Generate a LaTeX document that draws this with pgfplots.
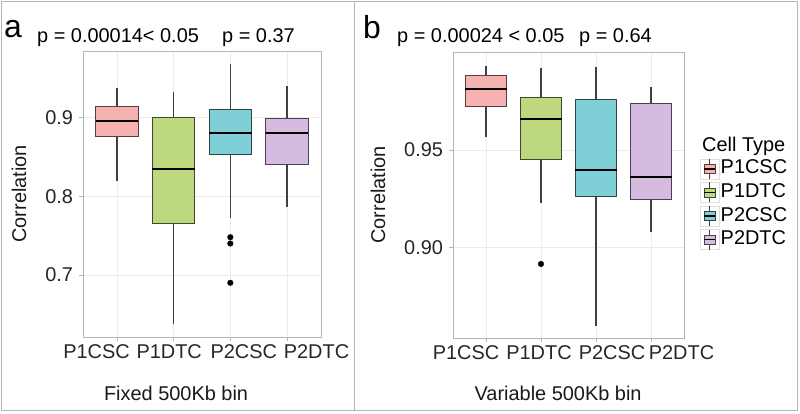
\documentclass[border=0pt]{standalone}
\usepackage{fontspec}
\setmainfont{Liberation Sans}
\usepackage{pgfplots}
\pgfplotsset{compat=1.18}
\usepgfplotslibrary{statistics}
\definecolor{c1}{HTML}{F6B2B0}
\definecolor{c2}{HTML}{BDD87F}
\definecolor{c3}{HTML}{7ECFD6}
\definecolor{c4}{HTML}{D6BBE0}
\definecolor{c1d}{HTML}{5A3C3C}
\definecolor{c2d}{HTML}{3E4A28}
\definecolor{c3d}{HTML}{2A4548}
\definecolor{c4d}{HTML}{4A3E50}
\definecolor{gridc}{HTML}{EBEBEB}
\definecolor{framec}{HTML}{B5B5B5}
\newcommand{\fs}{\fontsize{20}{22}\selectfont}
\pgfplotsset{
  panel/.style={
    anchor=south west, scale only axis,
    xmin=0.4, xmax=4.6,
    xtick={1,2,3,4},
    tick pos=left, tick align=outside, major tick length=4bp,
    tick style={framec, line width=0.8bp},
    grid=major, major grid style={gridc, line width=0.8bp},
    axis line style={framec, line width=0.8bp},
    /pgf/number format/assume math mode=true,
    tick label style={font=\fs, text=black!85},
    yticklabel style={xshift=-2.5bp},
    label style={font=\fs, text=black!90},
    boxplot/draw direction=y,
    boxplot/every median/.style={black, line width=2.2bp},
    boxplot/every whisker/.style={black!75, line width=1.3bp},
    boxplot/every box/.style={line width=0.9bp},
  },
  lgimg/.style 2 args={legend image code/.code={
    \draw[gray!25, line width=0.6bp, fill=white] (-4bp,-10bp) rectangle (15bp,10bp);
    \draw[black!75, line width=1bp] (5.5bp,-10bp) -- (5.5bp,10bp);
    \draw[fill=#1, draw=#2, line width=0.8bp] (0bp,-4.5bp) rectangle (11bp,4.5bp);
    \draw[black, line width=1.6bp] (0bp,0bp) -- (11bp,0bp);
  }},
}
\begin{document}
\begin{tikzpicture}
\useasboundingbox (0bp,0bp) rectangle (800bp,414bp);
\draw[framec, line width=1bp] (1.5bp,3bp) rectangle (797.5bp,412.5bp);
\draw[framec, line width=1bp] (354bp,3bp) -- (354bp,412.5bp);

% Panel a
\begin{axis}[panel, at={(83bp,77bp)}, width=238bp, height=286bp,
  ymin=0.621, ymax=0.985,
  xticklabels={\hspace*{-41bp}P1CSC,\hspace*{-9bp}P1DTC,P2CSC\hspace*{-27bp},P2DTC\hspace*{-59bp}},
  ytick={0.7,0.8,0.9}, yticklabels={0.7,0.8,0.9},
  xlabel={Fixed 500Kb bin}, ylabel={Correlation},
  xlabel style={at={(axis description cs:0.391,-0.196)}, anchor=center},
  ylabel style={at={(axis description cs:-0.269,0.5)}, anchor=center},
]
\addplot[forget plot, fill=c1, draw=c1d, boxplot prepared={lower whisker=0.820, lower quartile=0.876, median=0.896, upper quartile=0.915, upper whisker=0.938, draw position=1, box extend=0.75, whisker extend=0}] coordinates {};
\addplot[forget plot, fill=c2, draw=c2d, boxplot prepared={lower whisker=0.637, lower quartile=0.766, median=0.835, upper quartile=0.901, upper whisker=0.933, draw position=2, box extend=0.75, whisker extend=0}] coordinates {};
\addplot[forget plot, fill=c3, draw=c3d, boxplot prepared={lower whisker=0.773, lower quartile=0.853, median=0.881, upper quartile=0.911, upper whisker=0.969, draw position=3, box extend=0.75, whisker extend=0}] coordinates {};
\addplot[forget plot, fill=c4, draw=c4d, boxplot prepared={lower whisker=0.787, lower quartile=0.841, median=0.881, upper quartile=0.899, upper whisker=0.940, draw position=4, box extend=0.75, whisker extend=0}] coordinates {};
\addplot[forget plot, only marks, mark=*, mark size=2.8bp, black] coordinates {(3,0.748) (3,0.740) (3,0.690)};
\end{axis}

% Panel b
\begin{axis}[panel, at={(453bp,76bp)}, width=231bp, height=286bp,
  ymin=0.854, ymax=1.000,
  xticklabels={\hspace*{-40bp}P1CSC,\hspace*{-4bp}P1DTC,P2CSC\hspace*{-32bp},P2DTC\hspace*{-61bp}},
  ytick={0.90,0.95}, yticklabels={0.90,0.95},
  xlabel={Variable 500Kb bin}, ylabel={Correlation},
  xlabel style={at={(axis description cs:0.455,-0.192)}, anchor=center},
  ylabel style={at={(axis description cs:-0.325,0.5)}, anchor=center},
  legend style={at={(axis description cs:1.069,0.629)}, anchor=north west,
    draw=none, fill=none, font=\fs, row sep=2.6bp, inner sep=0pt,
    nodes={inner sep=1bp, text height=14bp, text depth=4bp}},
  legend cell align=left,
]
\addlegendimage{lgimg={c1}{c1d}}\addlegendentry{P1CSC}
\addlegendimage{lgimg={c2}{c2d}}\addlegendentry{P1DTC}
\addlegendimage{lgimg={c3}{c3d}}\addlegendentry{P2CSC}
\addlegendimage{lgimg={c4}{c4d}}\addlegendentry{P2DTC}
\addplot[forget plot, fill=c1, draw=c1d, boxplot prepared={lower whisker=0.9566, lower quartile=0.972, median=0.981, upper quartile=0.9878, upper whisker=0.9929, draw position=1, box extend=0.75, whisker extend=0}] coordinates {};
\addplot[forget plot, fill=c2, draw=c2d, boxplot prepared={lower whisker=0.923, lower quartile=0.945, median=0.966, upper quartile=0.977, upper whisker=0.992, draw position=2, box extend=0.75, whisker extend=0}] coordinates {};
\addplot[forget plot, fill=c3, draw=c3d, boxplot prepared={lower whisker=0.860, lower quartile=0.9265, median=0.9398, upper quartile=0.9757, upper whisker=0.9925, draw position=3, box extend=0.75, whisker extend=0}] coordinates {};
\addplot[forget plot, fill=c4, draw=c4d, boxplot prepared={lower whisker=0.908, lower quartile=0.9245, median=0.936, upper quartile=0.9735, upper whisker=0.982, draw position=4, box extend=0.75, whisker extend=0}] coordinates {};
\addplot[forget plot, only marks, mark=*, mark size=2.8bp, black] coordinates {(2,0.8918)};
\end{axis}

% Titles
\node[anchor=center, font=\fontsize{32}{34}\selectfont] at (13bp,385bp) {a};
\node[anchor=base west, inner sep=0pt, font=\fs] at (37bp,371bp) {p = 0.00014< 0.05};
\node[anchor=base west, inner sep=0pt, font=\fs] at (222bp,371bp) {p = 0.37};
\node[anchor=center, font=\fontsize{32}{34}\selectfont] at (372bp,387bp) {b};
\node[anchor=base west, inner sep=0pt, font=\fs] at (397bp,371bp) {p = 0.00024 < 0.05};
\node[anchor=base west, inner sep=0pt, font=\fs] at (579bp,371bp) {p = 0.64};
\node[anchor=base west, inner sep=0pt, font=\fs] at (702bp,262bp) {Cell Type};
\end{tikzpicture}
\end{document}
